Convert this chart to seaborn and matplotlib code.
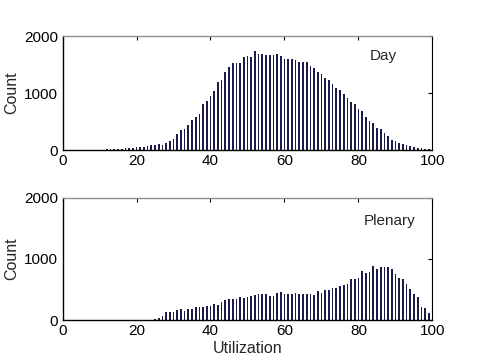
import matplotlib
matplotlib.use("Agg")
import matplotlib.pyplot as plt
import seaborn as sns
import pandas as pd

utilization = list(range(1, 100))

day_counts = [0, 0, 0, 0, 8, 0, 0, 0, 0, 0,
              5, 10, 15, 20, 25, 25, 30, 35, 40, 55,
              55, 55, 70, 85, 80, 110, 90, 130, 150, 200,
              285, 355, 370, 440, 525, 580, 630, 800, 860, 950,
              1040, 1190, 1220, 1370, 1450, 1530, 1520, 1520, 1630, 1650,
              1640, 1740, 1680, 1680, 1670, 1670, 1660, 1680, 1650, 1590,
              1590, 1590, 1580, 1540, 1540, 1550, 1480, 1440, 1360, 1340,
              1260, 1220, 1160, 1080, 1060, 980, 920, 850, 800, 720,
              690, 580, 510, 470, 390, 360, 300, 250, 180, 160,
              120, 100, 90, 70, 50, 40, 30, 20, 10]

plenary_counts = [0, 0, 8, 0, 0, 0, 0, 0, 5, 5,
                  0, 0, 0, 0, 0, 0, 0, 0, 0, 0,
                  0, 0, 0, 5, 15, 30, 65, 125, 135, 135,
                  165, 175, 150, 180, 180, 210, 210, 210, 235, 225,
                  260, 250, 300, 330, 345, 345, 345, 370, 365, 380,
                  395, 410, 425, 420, 425, 395, 395, 450, 460, 425,
                  425, 425, 435, 425, 420, 420, 420, 410, 475, 450,
                  490, 490, 530, 530, 555, 570, 585, 665, 665, 685,
                  800, 765, 790, 885, 830, 865, 875, 875, 835, 755,
                  685, 665, 590, 505, 425, 370, 210, 190, 110]

panel_labels = ["Day", "Plenary"]
y_ticks = [0, 1000, 2000]
x_ticks = [0, 20, 40, 60, 80, 100]

sns.set_theme(style="white")
plt.rcParams['font.family'] = ['Liberation Sans', 'DejaVu Sans']

fig = plt.figure(figsize=(4.78, 3.6), dpi=100)
ax1 = fig.add_axes([62.5/478, 1-150/360, 370/478, 114/360])
ax2 = fig.add_axes([62.5/478, 1-320/360, 370/478, 122/360])

bar_color = "#1c1c4a"
for ax, counts, label, lpos in [(ax1, day_counts, panel_labels[0], (86.7, 1650)),
                                 (ax2, plenary_counts, panel_labels[1], (88.5, 1620))]:
    df = pd.DataFrame({"Utilization": utilization, "Count": counts})
    sns.barplot(data=df, x="Utilization", y="Count", native_scale=True,
                width=0.45, color=bar_color, saturation=1, ax=ax,
                linewidth=0, errorbar=None)
    ax.set_xlim(0, 100)
    ax.set_ylim(0, 2000)
    ax.set_xticks(x_ticks)
    ax.set_yticks(y_ticks)
    ax.tick_params(direction="in", length=3, width=0.8, top=True, right=True,
                   labelsize=11, colors="black", pad=3)
    for s in ["left", "bottom", "right"]:
        ax.spines[s].set_color("black")
        ax.spines[s].set_linewidth(1.0)
    ax.spines["right"].set_linewidth(0.8)
    ax.spines["top"].set_color("#909090")
    ax.spines["top"].set_linewidth(1.0)
    ax.set_ylabel("Count", fontsize=11.5, labelpad=4)
    ax.set_xlabel("")
    ax.text(lpos[0], lpos[1], label, fontsize=11, ha="center", va="center")

ax2.set_xlabel("Utilization", fontsize=11.5, labelpad=2)

fig.savefig("out.png", dpi=100)
